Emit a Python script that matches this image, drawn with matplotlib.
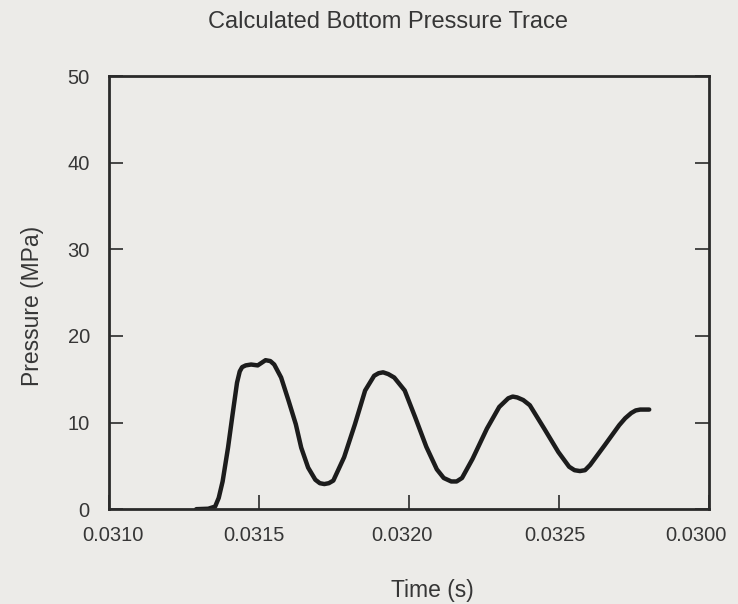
import matplotlib
matplotlib.use("Agg")
import matplotlib.pyplot as plt
import matplotlib.transforms as mtransforms
from matplotlib.ticker import FixedLocator

# Data
time_s = [0.031290, 0.031330, 0.031353, 0.031365, 0.031378, 0.031396, 0.031411,
          0.031426, 0.031435, 0.031443, 0.031455, 0.031473, 0.031495, 0.031508,
          0.031521, 0.031537, 0.031550, 0.031573, 0.031598, 0.031622, 0.031640,
          0.031663, 0.031687, 0.031702, 0.031717, 0.031732, 0.031747, 0.031783,
          0.031819, 0.031853, 0.031883, 0.031898, 0.031913, 0.031930, 0.031950,
          0.031985, 0.032020, 0.032057, 0.032092, 0.032115, 0.032140, 0.032158,
          0.032176, 0.032211, 0.032259, 0.032300, 0.032330, 0.032345, 0.032360,
          0.032380, 0.032402, 0.032450, 0.032497, 0.032533, 0.032551, 0.032569,
          0.032586, 0.032603, 0.032652, 0.032700, 0.032720, 0.032740, 0.032755,
          0.032770, 0.032800]
pressure_mpa = [0.0, 0.05, 0.3, 1.3, 3.2, 7.1, 10.9,
                14.6, 15.9, 16.4, 16.6, 16.7, 16.6, 16.9,
                17.2, 17.1, 16.7, 15.2, 12.5, 9.8, 7.1,
                4.8, 3.4, 3.0, 2.9, 3.0, 3.3, 6.0,
                9.8, 13.7, 15.4, 15.7, 15.8, 15.6, 15.2,
                13.7, 10.6, 7.2, 4.6, 3.6, 3.2, 3.2,
                3.6, 5.8, 9.3, 11.8, 12.8, 13.0, 12.9,
                12.6, 12.0, 9.3, 6.6, 4.9, 4.5, 4.4,
                4.5, 5.1, 7.4, 9.7, 10.5, 11.1, 11.4,
                11.5, 11.5]

x_ticks = [0.0310, 0.0315, 0.0320, 0.0325, 0.0330]
x_tick_labels = ["0.0310", "0.0315", "0.0320", "0.0325", "0.0300"]
y_ticks = [0, 10, 20, 30, 40, 50]
y_tick_labels = ["0", "10", "20", "30", "40", "50"]

bg = "#ecebe8"
ink = "#2a2a2a"
txt = "#363636"

fig = plt.figure(figsize=(7.38, 6.04), dpi=100, facecolor=bg)
ax = fig.add_axes([0.148, 0.157, 0.813, 0.717])
ax.set_facecolor(bg)

ax.plot(time_s, pressure_mpa, color="#1c1c1c", linewidth=3.2,
        solid_joinstyle="round", solid_capstyle="round")

ax.set_xlim(0.0310, 0.0330)
ax.set_ylim(0, 50)

ax.xaxis.set_major_locator(FixedLocator(x_ticks))
ax.set_xticklabels(x_tick_labels)
ax.yaxis.set_major_locator(FixedLocator(y_ticks))
ax.set_yticklabels(y_tick_labels)

tick_font = ["Liberation Sans", "DejaVu Sans"]
for lab in ax.get_xticklabels() + ax.get_yticklabels():
    lab.set_family(tick_font)
    lab.set_fontsize(14.5)
    lab.set_color(txt)

ax.tick_params(axis="both", direction="in", length=10, width=1.2, color=ink,
               left=True, right=True, top=False, bottom=True)
ax.tick_params(axis="x", pad=12)
ax.tick_params(axis="y", pad=14)

# small horizontal offsets of the x tick labels (pixels), as in the scan
offsets_px = [4, -5, -7, -4, -13]
for lab, dx in zip(ax.get_xticklabels(), offsets_px):
    lab.set_transform(lab.get_transform() +
                      mtransforms.ScaledTranslation(dx / 100, 0, fig.dpi_scale_trans))

for sp in ax.spines.values():
    sp.set_color(ink)
    sp.set_linewidth(2.0)

fig.text(432 / 738, 1 - 590 / 604, "Time (s)", ha="center", va="center",
         fontsize=16.5, color=txt, family=["Liberation Sans", "DejaVu Sans"])
fig.text(33 / 738, 1 - 306 / 604, "Pressure (MPa)", ha="center", va="center",
         rotation=90, fontsize=16.5, color=txt,
         family=["Liberation Sans", "DejaVu Sans"])
fig.text(388 / 738, 1 - 22 / 604, "Calculated Bottom Pressure Trace",
         ha="center", va="center", fontsize=17, color=txt,
         family=["Liberation Sans", "DejaVu Sans"])

fig.savefig("out.png", dpi=100, facecolor=bg)
